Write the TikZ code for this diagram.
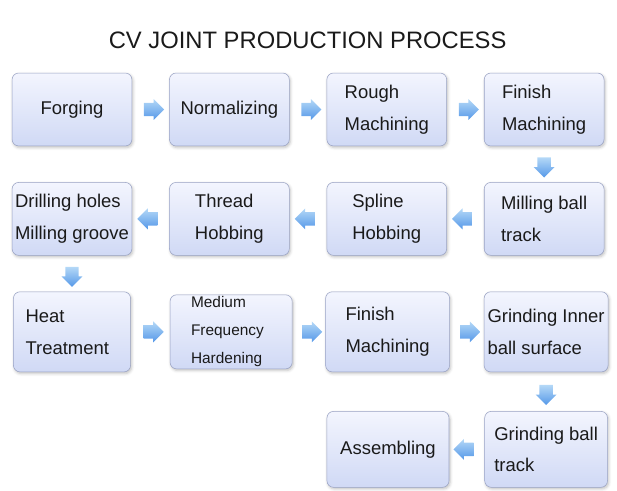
\documentclass[tikz,border=0pt]{standalone}
\usepackage{fontspec}
\setmainfont{Liberation Sans}
\usetikzlibrary{positioning, shapes.arrows, shadows.blur}
\definecolor{boxtop}{HTML}{F3F5FE}
\definecolor{boxbot}{HTML}{D0D9F5}
\definecolor{boxline}{HTML}{9AA3C4}
\definecolor{arrtop}{HTML}{B4D8F7}
\definecolor{arrbot}{HTML}{5598E8}
\definecolor{txt}{HTML}{1A1A1A}

\begin{document}
\begin{tikzpicture}[
    box/.style={rectangle, draw=boxline, rounded corners=5pt, top color=boxtop, bottom color=boxbot, minimum width=3.17cm, minimum height=1.93cm, inner xsep=2pt, inner ysep=0pt, align=left, text=txt, font=\fontsize{13.9}{24}\selectfont, blur shadow={shadow xshift=0.8pt, shadow yshift=-1.2pt, shadow blur steps=4, shadow opacity=25}},
    tallbox/.style={box, minimum height=2.12cm},
    blockarr/.style={single arrow, draw=none, top color=arrtop, bottom color=arrbot, inner sep=0.17cm, minimum width=0pt, minimum height=0.45cm, single arrow head extend=0.1cm},
    rarr/.style={blockarr},
    larr/.style={blockarr, shape border rotate=180},
    darr/.style={blockarr, shape border rotate=270}
]
\useasboundingbox (0,0) rectangle (16.325,-12.991);

% Title
\node[font=\fontsize{17.9}{20}\selectfont, text=txt] (title) at (8.14,-1.06) {CV JOINT PRODUCTION PROCESS};

% Row 1
\node[box] (forging) at (1.905,-2.897) {Forging};
\node[box, right=0.98cm of forging] (normal) {Normalizing};
\node[box, right=0.98cm of normal] (rough) {Rough\\Machining};
\node[box, right=0.98cm of rough] (finish) {Finish\\Machining};

% Row 2
\node[box, below=0.95cm of finish] (millball) {Milling ball\\track};
\node[box, left=0.98cm of millball] (spline) {Spline\\Hobbing};
\node[box, left=0.98cm of spline] (thread) {Thread\\Hobbing};
\node[box, left=0.98cm of thread] (drill) {Drilling holes\\Milling groove};

% Row 3
\node[tallbox, minimum width=3.1cm, text width=2.46cm, inner xsep=0.32cm, below=0.95cm of drill] (heat) {Heat\\Treatment};
\node[box, minimum height=1.96cm, text width=2.12cm, inner xsep=0.556cm, font=\fontsize{11.6}{21}\selectfont, right=1.03cm of heat] (medfreq) {Medium\\Frequency\\Hardening};
\node[tallbox, minimum width=3.28cm, right=0.87cm of medfreq] (finish2) {Finish\\Machining};
\node[tallbox, minimum width=3.28cm, right=0.9cm of finish2] (grindin) {Grinding Inner\\ball surface};

% Row 4
\node[box, minimum width=3.25cm, minimum height=2.01cm, below=1.03cm of grindin] (grindball) {Grinding ball\\track};
\node[box, minimum width=3.23cm, minimum height=2.01cm, left=0.93cm of grindball] (assembly) {Assembling};

% Flow arrows
\path (forging.east) -- node[rarr] {} (normal.west);
\path (normal.east) -- node[rarr] {} (rough.west);
\path (rough.east) -- node[rarr] {} (finish.west);
\path (finish.south) -- node[darr] {} (millball.north);
\path (millball.west) -- node[larr] {} (spline.east);
\path (spline.west) -- node[larr] {} (thread.east);
\path (thread.west) -- node[larr] {} (drill.east);
\path (drill.south) -- node[darr] {} (heat.north);
\path (heat.east) -- node[rarr] {} (medfreq.west);
\path (medfreq.east) -- node[rarr] {} (finish2.west);
\path (finish2.east) -- node[rarr] {} (grindin.west);
\path (grindin.south) -- node[darr] {} (grindball.north);
\path (grindball.west) -- node[larr] {} (assembly.east);
\end{tikzpicture}
\end{document}
